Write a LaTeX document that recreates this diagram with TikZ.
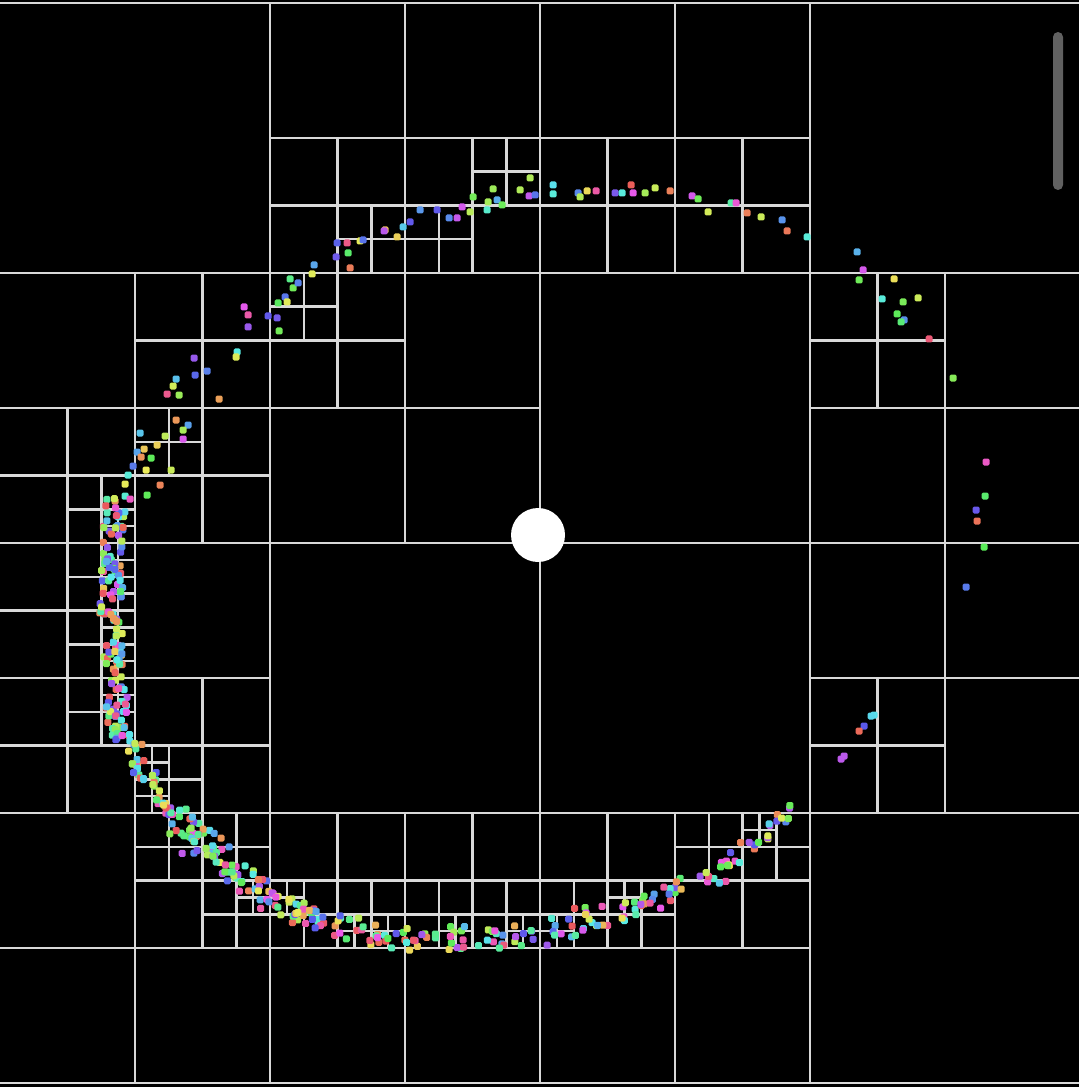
\PassOptionsToPackage{rgb}{xcolor}
\documentclass[tikz,border=0pt]{standalone}
\usepackage{tikz}

\newcommand{\qsplit}[3]{%
  \draw[qline] ({#1+#3/2},#2) -- ++(0,#3);
  \draw[qline] (#1,{#2+#3/2}) -- ++(#3,0);
}

\begin{document}
\begin{tikzpicture}[
  x=0.02cm, y=-0.02cm,
  qline/.style = {draw=white!85!black, line width=0.05cm},
  dot/.style   = {fill=dotcol, rounded corners=0.03cm},
  hub/.style   = {fill=white},
  bar/.style   = {fill=white!38!black, rounded corners=0.1cm}
]
  \useasboundingbox (0,0) rectangle (1079,1087);
  \fill[black] (0,0) rectangle (1079,1087);
  \clip (0,0) rectangle (1079,1087);

  \draw[qline] (0,3) -- (1079,3);
  \draw[qline] (0,1083) -- (1079,1083);

  \qsplit{0}{3}{1080}
  \foreach \x/\y in {0/3, 540/3, 0/543, 540/543}
    {\qsplit{\x}{\y}{540}}
  \foreach \x/\y in {270/3, 540/3, 0/273, 270/273, 810/273, 0/543, 810/543,
                     0/813, 270/813, 540/813}
    {\qsplit{\x}{\y}{270}}
  \foreach \x/\y in {270/138, 405/138, 540/138, 675/138, 135/273, 270/273,
                     810/273, 0/408, 135/408, 0/543, 0/678, 135/678, 810/678,
                     135/813, 270/813, 405/813, 540/813, 675/813}
    {\qsplit{\x}{\y}{135}}
  \foreach \x/\y in {337.5/205.5, 405/205.5, 472.5/138, 270/273, 67.5/475.5,
                     135/408, 67.5/543, 67.5/610.5, 67.5/678, 135/745.5,
                     135/813, 202.5/813, 202.5/880.5, 270/880.5, 337.5/880.5,
                     405/880.5, 472.5/880.5, 540/880.5, 607.5/880.5, 675/813,
                     742.5/813}
    {\qsplit{\x}{\y}{67.5}}
  \foreach \x/\y in {101.25/509.25, 101.25/543, 101.25/576.75, 101.25/610.5,
                     101.25/644.25, 101.25/678, 135/745.5, 135/779.25,
                     236.25/880.5, 270/880.5, 337.5/914.25, 371.25/914.25,
                     438.75/914.25, 506.25/914.25, 540/914.25, 607.5/880.5,
                     742.5/813}
    {\qsplit{\x}{\y}{33.75}}

  \pgfmathsetseed{11}
  \foreach \px/\py in {
      337/243, 347/243, 348/253, 336/257, 350/268, 314/265, 312/274, 290/279,
      293/288, 298/283, 285/297, 287/302, 278/303, 277/318, 279/331, 268/316,
      244/307, 248/315, 248/327, 237/352, 236/357, 194/358,
      195/375, 207/371, 176/379, 173/386, 167/394, 179/395, 219/399, 176/420,
      188/425, 183/430, 183/439, 140/433, 165/436, 157/445, 144/449, 137/452,
      151/458, 141/457, 146/470, 171/470, 133/466, 128/475, 125/484, 160/485,
      147/495, 125/496, 130/499, 115/501,
      385/230, 397/237, 410/222, 403/227, 420/210, 437/210, 449/218, 457/218,
      462/207, 470/212, 473/197, 487/210, 488/202, 493/189, 497/200, 502/205,
      520/190, 530/178, 529/196, 535/195, 553/185, 553/194, 578/193, 580/197,
      587/191, 596/191, 615/193, 622/193, 631/185, 633/193, 645/193, 655/188,
      670/191, 692/196, 698/199, 708/212, 360/241, 363/240, 384/231,
      731/203, 736/203, 747/213, 761/217, 782/220, 787/231, 807/237, 857/252,
      863/270, 859/280, 894/279, 882/299, 903/302, 918/298, 897/314, 904/320,
      901/322, 929/339, 953/378, 986/462, 985/496, 976/510, 977/521, 984/547,
      966/587, 874/715, 871/716, 864/726, 859/731, 844/756, 841/759}
  {
    \pgfmathsetmacro\hue{rnd}
    \definecolor{dotcol}{hsb}{\hue,0.62,0.92}
    \fill[dot] (\px,\py) ++(-3.5,-3.5) rectangle ++(7,7);
  }

  \foreach \ax/\ay/\bx/\by/\n/\w in {
      115/505/110/620/70/11, 110/620/120/740/65/11, 125/740/175/820/45/10,
      175/820/245/882/60/15, 245/882/300/915/35/12, 300/915/400/940/40/12,
      400/940/540/935/42/12, 540/935/640/905/32/13, 640/905/720/870/26/11,
      720/870/790/812/24/7}
  {
    \foreach \k in {1,...,\n}{
      \pgfmathsetmacro\t{rnd}
      \pgfmathsetmacro\px{\ax+\t*(\bx-\ax)+\w*rand}
      \pgfmathsetmacro\py{\ay+\t*(\by-\ay)+\w*rand}
      \pgfmathsetmacro\hue{rnd}
      \definecolor{dotcol}{hsb}{\hue,0.62,0.92}
      \fill[dot] (\px,\py) ++(-3.5,-3.5) rectangle ++(7,7);
    }
  }

  \fill[hub] (538,535) circle (27);
  \fill[bar] (1053,32) rectangle (1063,190);
\end{tikzpicture}
\end{document}
